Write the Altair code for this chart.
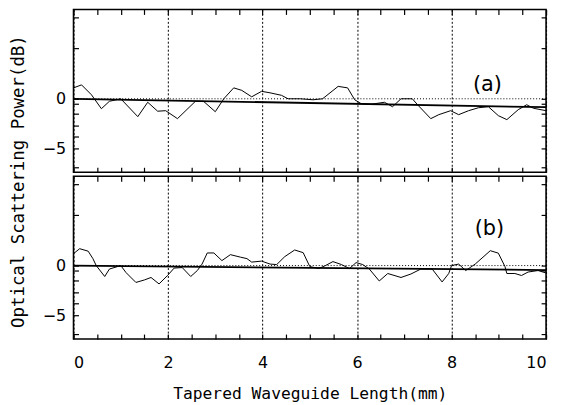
import altair as alt
import pandas as pd

# ---- data ----
xa = [0, 0.17, 0.38, 0.44, 0.59, 0.76, 1.0, 1.36, 1.57, 1.78, 1.95, 2.2, 2.58, 2.75, 3.0,
      3.18, 3.39, 3.56, 3.77, 3.98, 4.16, 4.4, 4.54, 4.8, 5.07, 5.27, 5.6, 5.8, 5.95, 6.09,
      6.3, 6.58, 6.75, 6.93, 7.17, 7.28, 7.56, 7.73, 7.98, 8.15, 8.36, 8.57, 8.78, 8.99, 9.17,
      9.41, 9.59, 9.73, 10.0]
ya = [1.1, 1.4, 0.4, 0.0, -1.0, -0.25, 0.0, -1.8, -0.35, -1.25, -1.2, -2.0, -0.25, -0.25, -1.3,
      0.0, 1.1, 0.85, 0.2, 0.75, 0.6, 0.35, 0.0, 0.0, -0.1, 0.0, 1.25, 1.1, -0.1, -0.5,
      -0.55, -0.35, -0.8, 0.0, 0.0, -0.6, -2.0, -1.6, -1.2, -1.6, -1.2, -0.9, -0.8, -1.7, -2.1,
      -1.1, -0.6, -0.95, -1.2]

xb = [0, 0.13, 0.31, 0.41, 0.48, 0.66, 0.76, 1.0, 1.11, 1.32, 1.5, 1.64, 1.81, 1.99, 2.13,
      2.3, 2.48, 2.62, 2.72, 2.83, 2.97, 3.14, 3.32, 3.53, 3.67, 3.77, 3.98, 4.16, 4.3, 4.47,
      4.68, 4.86, 5.0, 5.19, 5.33, 5.49, 5.67, 5.84, 5.98, 6.12, 6.26, 6.47, 6.65, 6.93, 7.14,
      7.35, 7.59, 7.8, 7.94, 8.0, 8.15, 8.3, 8.5, 8.82, 8.99, 9.13, 9.17, 9.34, 9.48, 9.62,
      9.83, 10.0]
yb = [1.2, 1.7, 1.45, 0.7, 0.0, -1.1, -0.35, 0.0, -0.7, -1.7, -1.45, -1.2, -1.85, -1.0, -0.25,
      -0.2, -1.1, -0.5, 0.15, 1.27, 1.27, 0.5, 1.1, 0.85, 0.7, 0.35, 0.45, 0.15, 0.1, 0.9,
      1.57, 1.3, -0.1, -0.3, 0.0, 0.4, 0.1, -0.3, 0.3, 0.1, -0.35, -1.55, -0.8, -1.2, -0.85,
      -0.35, -0.35, -1.65, -0.8, 0.0, 0.15, -0.5, 0.15, 1.5, 1.25, -0.1, -0.8, -0.8, -1.0, -0.65,
      -0.5, -0.75]

fit_x = [0, 10]
fit_a = [0.0, -0.85]
fit_b = [0.0, -0.45]

panel_labels = ["(a)", "(b)"]
label_x = [8.76, 8.8]
label_y = [1.4, 3.7]

x_label_values = [0, 2, 4, 6, 8, 10]
x_tick_values = [i * 0.5 for i in range(21)]
y_label_values = [0, -5]
y_tick_values = [8.2, 5.1, 0, -0.5, -1.5, -2.65, -3.8, -5, -6.85]

X_DOMAIN = [0, 10]
Y_DOMAIN = [-7.4, 9]
W, H = 476, 164
FONT = "DejaVu Sans"
TFONT = "DejaVu Sans Mono"

xs = alt.Scale(domain=X_DOMAIN, nice=False, zero=False)
ys = alt.Scale(domain=Y_DOMAIN, nice=False, zero=False)


def tick_axis(orient, offset, values):
    return alt.Axis(orient=orient, offset=offset, values=values, ticks=True, tickSize=5,
                    tickWidth=1.2, tickColor="black", labels=False, domain=False,
                    grid=False, title=None)


def panel(x, y, fit, label, lx, ly, bottom):
    df = pd.DataFrame({"x": x, "y": y})
    dfit = pd.DataFrame({"x": fit_x, "y": fit})
    dlab = pd.DataFrame({"label": [label], "x": [lx], "y": [ly]})
    dzero = pd.DataFrame({"y": [0]})
    x_main_axis = alt.Axis(orient="bottom", values=x_label_values, grid=True,
                           gridDash=[2, 2], gridColor="black", gridOpacity=1, gridWidth=1,
                           ticks=False, domain=False, labels=bottom, labelFontSize=16,
                           labelPadding=16, labelColor="black", labelFont=FONT,
                           title="Tapered Waveguide Length(mm)" if bottom else None,
                           titleFontSize=16.4, titleFontWeight="normal", titleFont=TFONT,
                           titleColor="black", titlePadding=15)
    y_main_axis = alt.Axis(orient="left", values=y_label_values, grid=False, ticks=False,
                           domain=False, labelFontSize=16, labelPadding=8,
                           labelColor="black", labelFont=FONT, title=None)
    curve = alt.Chart(df).mark_line(color="black", strokeWidth=1).encode(
        x=alt.X("x:Q", scale=xs, axis=x_main_axis),
        y=alt.Y("y:Q", scale=ys, axis=y_main_axis),
    )
    fitline = alt.Chart(dfit).mark_line(color="black", strokeWidth=1.8).encode(
        x=alt.X("x:Q", scale=xs, axis=tick_axis("top", -H, x_tick_values)),
        y=alt.Y("y:Q", scale=ys, axis=tick_axis("right", -W, y_tick_values)),
    )
    zero = alt.Chart(dzero).mark_rule(color="black", strokeWidth=1, strokeDash=[1, 2]).encode(
        y=alt.Y("y:Q", scale=ys, axis=tick_axis("left", -W, y_tick_values)),
    )
    text = alt.Chart(dlab).mark_text(fontSize=21, font=FONT, color="black").encode(
        x=alt.X("x:Q", scale=xs, axis=tick_axis("bottom", -H, x_tick_values)),
        y=alt.Y("y:Q", scale=ys, axis=None),
        text="label:N",
    )
    return alt.layer(zero, curve, fitline, text).resolve_axis(
        x="independent", y="independent").properties(width=W, height=H)


top = panel(xa, ya, fit_a, panel_labels[0], label_x[0], label_y[0], False)
bot = panel(xb, yb, fit_b, panel_labels[1], label_x[1], label_y[1], True)

chart = alt.vconcat(top, bot, spacing=0).properties(
    title=alt.TitleParams("Optical Scattering Power(dB)", orient="left", anchor="middle",
                          fontSize=17.5, fontWeight="normal", font=TFONT, color="black",
                          offset=14, dx=24),
    padding={"left": 2, "top": -2, "right": 5, "bottom": 0},
    background="white",
).configure_view(stroke="black", strokeWidth=1.6)

chart.save("out.html", embed_options={"renderer": "svg", "actions": False})
